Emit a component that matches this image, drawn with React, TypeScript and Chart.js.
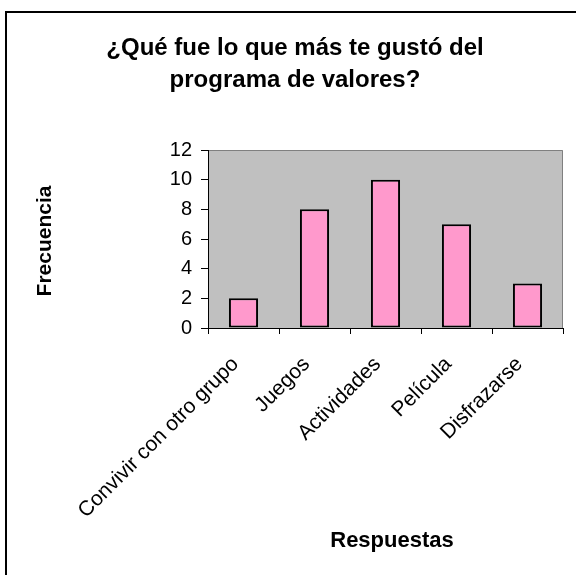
import React, { useEffect, useRef } from "react";
import { Chart, registerables } from "chart.js";

Chart.register(...registerables);

const categories: string[] = [
  "Convivir con otro grupo",
  "Juegos",
  "Actividades",
  "Película",
  "Disfrazarse",
];
const frecuencia: number[] = [2, 8, 10, 7, 3];
const titleLines: string[] = ["¿Qué fue lo que más te gustó del", "programa de valores?"];
const yTitle = "Frecuencia";
const xTitle = "Respuestas";
const yMin = 0;
const yMax = 12;
const yStep = 2;

const FONT = "'Liberation Sans', Arial, sans-serif";

const decorPlugin = {
  id: "decor",
  beforeDraw(chart: any) {
    const { ctx, chartArea, width, height } = chart;
    ctx.save();
    ctx.fillStyle = "#ffffff";
    ctx.fillRect(0, 0, width, height);
    // outer frame
    ctx.fillStyle = "#000000";
    ctx.fillRect(5, 11, 2, height - 11);
    ctx.fillRect(5, 11, width - 5, 2);
    // plot area
    ctx.fillStyle = "#C0C0C0";
    ctx.fillRect(chartArea.left, chartArea.top, chartArea.right - chartArea.left, chartArea.bottom - chartArea.top);
    ctx.strokeStyle = "#808080";
    ctx.lineWidth = 1;
    ctx.beginPath();
    ctx.moveTo(chartArea.left, chartArea.top + 0.5);
    ctx.lineTo(chartArea.right - 0.5, chartArea.top + 0.5);
    ctx.lineTo(chartArea.right - 0.5, chartArea.bottom);
    ctx.stroke();
    ctx.restore();
  },
  afterDraw(chart: any) {
    const { ctx } = chart;
    ctx.save();
    ctx.fillStyle = "#000000";
    ctx.textAlign = "center";
    ctx.textBaseline = "alphabetic";
    ctx.font = `bold 24px ${FONT}`;
    ctx.fillText(titleLines[0], 295, 55);
    ctx.fillText(titleLines[1], 295, 87);
    ctx.font = `bold 22px ${FONT}`;
    ctx.textBaseline = "middle";
    ctx.fillText(xTitle, 392, 541);
    ctx.font = `bold 21px ${FONT}`;
    ctx.translate(45, 241);
    ctx.rotate(-Math.PI / 2);
    ctx.fillText(yTitle, 0, 0);
    ctx.restore();
  },
};

export default function App() {
  const canvasRef = useRef<HTMLCanvasElement | null>(null);

  useEffect(() => {
    if (!canvasRef.current) return;
    const chart = new Chart(canvasRef.current, {
      type: "bar",
      data: {
        labels: categories,
        datasets: [
          {
            label: yTitle,
            data: frecuencia,
            backgroundColor: "#FF99CC",
            borderColor: "#000000",
            borderWidth: 2,
            borderSkipped: false,
            categoryPercentage: 1,
            barPercentage: 0.41,
          },
        ],
      },
      options: {
        animation: false,
        responsive: false,
        maintainAspectRatio: false,
        layout: { padding: { left: 0, top: 150, right: 13, bottom: 0 } },
        plugins: {
          legend: { display: false },
          tooltip: { enabled: false },
          title: { display: false },
        },
        scales: {
          x: {
            offset: true,
            afterFit: (scale: any) => {
              scale.height = 247;
            },
            grid: {
              display: true,
              offset: true,
              drawOnChartArea: false,
              drawTicks: true,
              tickLength: 6,
              color: "#000000",
            },
            border: { display: true, color: "#000000", width: 1 },
            ticks: {
              maxRotation: 45,
              minRotation: 45,
              autoSkip: false,
              color: "#000000",
              padding: 18,
              labelOffset: -8,
              font: { family: FONT, size: 21 },
            },
          },
          y: {
            min: yMin,
            max: yMax,
            afterFit: (scale: any) => {
              scale.width = 208;
            },
            grid: {
              display: true,
              drawOnChartArea: false,
              drawTicks: true,
              tickLength: 7,
              color: "#000000",
            },
            border: { display: true, color: "#000000", width: 1 },
            ticks: {
              stepSize: yStep,
              color: "#000000",
              padding: 9,
              font: { family: FONT, size: 20 },
            },
          },
        },
      },
      plugins: [decorPlugin],
    });
    return () => chart.destroy();
  }, []);

  return (
    <div style={{ position: "absolute", left: 0, top: 0, width: 576, height: 575, overflow: "hidden" }}>
      <canvas ref={canvasRef} width={576} height={575} style={{ width: 576, height: 575, display: "block" }} />
    </div>
  );
}
